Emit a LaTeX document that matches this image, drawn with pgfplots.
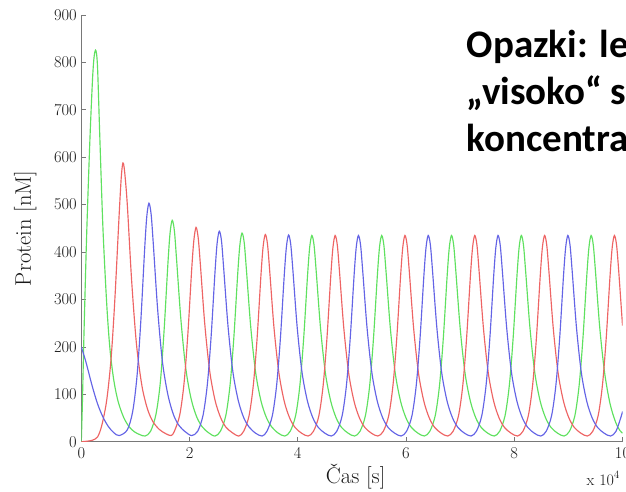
\documentclass[border=0pt]{standalone}
\usepackage{fontspec}
\usepackage{pgfplots}
\pgfplotsset{compat=1.18}
\newfontfamily\carlito{Carlito}
\definecolor{cgreen}{RGB}{95,225,95}
\definecolor{cred}{RGB}{238,100,100}
\definecolor{cblue}{RGB}{100,100,230}
\definecolor{axgray}{RGB}{120,120,120}
\begin{document}
\begin{tikzpicture}[x=1pt,y=1pt]
\path[use as bounding box] (0,-492) rectangle (626,0);
\fill[white] (0,-492) rectangle (626,0);
\clip (0,-492) rectangle (626,0);
\begin{axis}[
  at={(81.3pt,-441.7pt)}, anchor=south west,
  scale only axis, width=541.2pt, height=426.7pt,
  xmin=0, xmax=10, ymin=0, ymax=900,
  axis x line=bottom, axis y line=left,
  axis line style={axgray, line width=0.9pt, -},
  xtick={0,2,...,10}, ytick={0,100,...,900},
  tick align=inside, major tick length=5pt,
  tick style={axgray, line width=0.7pt},
  /pgf/number format/assume math mode=true,
  tick label style={font=\fontsize{16.5}{19}\selectfont, text=black!90},
  xticklabel style={yshift=-2.5pt},
  yticklabel style={xshift=-1pt},
  xlabel={Čas [s]}, ylabel={Protein [nM]},
  label style={font=\fontsize{22.5}{26}\selectfont, text=black!90},
  xlabel style={at={(axis description cs:0.507,-0.0968)}, anchor=base},
  ylabel style={at={(axis description cs:-0.093,0.5)}, anchor=base},
  every axis plot/.append style={line width=1.15pt, smooth, no marks},
]
% green
\addplot[cgreen] coordinates {
(0,0) (0.02,80) (0.05,230) (0.10,440) (0.16,640) (0.21,770) (0.24,815) (0.27,825) (0.30,790) (0.34,650) (0.40,450) (0.47,290) (0.53,195) (0.60,130) (0.68,85) (0.78,52) (0.88,32) (0.98,21) (1.08,15) (1.18,12)
(1.28,22) (1.38,58) (1.46,125) (1.53,235) (1.60,375) (1.64,440) (1.68,467) (1.72,445) (1.76,385) (1.84,258) (1.93,155) (2.03,90) (2.13,53) (2.23,32) (2.35,19) (2.47,12)
(2.57,22) (2.67,55) (2.75,121) (2.82,222) (2.89,354) (2.93,415) (2.97,440) (3.01,420) (3.05,364) (3.13,243) (3.22,147) (3.32,86) (3.42,51) (3.52,31) (3.64,18) (3.76,12)
(3.86,22) (3.96,55) (4.04,120) (4.11,220) (4.18,350) (4.22,410) (4.26,435) (4.30,415) (4.34,360) (4.42,240) (4.51,145) (4.61,85) (4.71,50) (4.81,30) (4.93,18) (5.05,12)
(5.15,22) (5.25,55) (5.33,120) (5.40,220) (5.47,350) (5.51,410) (5.55,435) (5.59,415) (5.63,360) (5.71,240) (5.80,145) (5.90,85) (6.00,50) (6.10,30) (6.22,18) (6.34,12)
(6.44,22) (6.54,55) (6.62,120) (6.69,220) (6.76,350) (6.80,410) (6.84,435) (6.88,415) (6.92,360) (7.00,240) (7.09,145) (7.19,85) (7.29,50) (7.39,30) (7.51,18) (7.63,12)
(7.73,22) (7.83,55) (7.91,120) (7.98,220) (8.05,350) (8.09,410) (8.13,435) (8.17,415) (8.21,360) (8.29,240) (8.38,145) (8.48,85) (8.58,50) (8.68,30) (8.80,18) (8.92,12)
(9.02,22) (9.12,55) (9.20,120) (9.27,220) (9.34,350) (9.38,410) (9.42,435) (9.46,415) (9.50,360) (9.58,240) (9.67,145) (9.77,80) (9.87,42) (9.95,24) (10,18)
};
% red
\addplot[cred] coordinates {
(0,0) (0.10,1) (0.20,3) (0.30,10) (0.38,35) (0.47,88) (0.55,175) (0.62,300) (0.70,480) (0.74,560) (0.77,588) (0.80,570) (0.85,500) (0.93,340) (1.02,205) (1.12,118) (1.22,70) (1.32,43) (1.44,26) (1.56,17) (1.66,13)
(1.72,22) (1.82,57) (1.90,125) (1.97,229) (2.04,364) (2.08,425) (2.12,452) (2.16,430) (2.20,374) (2.28,250) (2.37,151) (2.47,88) (2.57,52) (2.67,31) (2.79,19) (2.91,12)
(3.00,22) (3.10,55) (3.18,121) (3.25,221) (3.32,352) (3.36,412) (3.40,437) (3.44,417) (3.48,362) (3.56,241) (3.65,146) (3.75,85) (3.85,50) (3.95,30) (4.07,18) (4.19,12)
(4.29,22) (4.39,55) (4.47,120) (4.54,220) (4.61,350) (4.65,410) (4.69,435) (4.73,415) (4.77,360) (4.85,240) (4.94,145) (5.04,85) (5.14,50) (5.24,30) (5.36,18) (5.48,12)
(5.58,22) (5.68,55) (5.76,120) (5.83,220) (5.90,350) (5.94,410) (5.98,435) (6.02,415) (6.06,360) (6.14,240) (6.23,145) (6.33,85) (6.43,50) (6.53,30) (6.65,18) (6.77,12)
(6.87,22) (6.97,55) (7.05,120) (7.12,220) (7.19,350) (7.23,410) (7.27,435) (7.31,415) (7.35,360) (7.43,240) (7.52,145) (7.62,85) (7.72,50) (7.82,30) (7.94,18) (8.06,12)
(8.16,22) (8.26,55) (8.34,120) (8.41,220) (8.48,350) (8.52,410) (8.56,435) (8.60,415) (8.64,360) (8.72,240) (8.81,145) (8.91,85) (9.01,50) (9.11,30) (9.23,18) (9.35,12)
(9.45,22) (9.55,55) (9.63,120) (9.70,220) (9.77,350) (9.81,410) (9.85,435) (9.89,415) (9.93,360) (10.0,245)
};
% blue
\addplot[cblue] coordinates {
(0,200) (0.05,182) (0.10,162) (0.20,118) (0.30,80) (0.40,52) (0.50,32) (0.60,19) (0.70,13)
(0.85,25) (0.95,64) (1.03,139) (1.10,255) (1.17,405) (1.21,475) (1.25,503) (1.29,480) (1.33,418) (1.41,280) (1.50,168) (1.60,99) (1.70,58) (1.80,35) (1.92,21) (2.04,13)
(2.15,22) (2.25,56) (2.33,122) (2.40,224) (2.47,357) (2.51,419) (2.55,444) (2.59,424) (2.63,367) (2.71,245) (2.80,148) (2.90,87) (3.00,51) (3.10,31) (3.22,18) (3.34,12)
(3.43,22) (3.53,55) (3.61,120) (3.68,220) (3.75,351) (3.79,411) (3.83,436) (3.87,416) (3.91,361) (3.99,240) (4.08,145) (4.18,85) (4.28,50) (4.38,30) (4.50,18) (4.62,12)
(4.72,22) (4.82,55) (4.90,120) (4.97,220) (5.04,350) (5.08,410) (5.12,435) (5.16,415) (5.20,360) (5.28,240) (5.37,145) (5.47,85) (5.57,50) (5.67,30) (5.79,18) (5.91,12)
(6.01,22) (6.11,55) (6.19,120) (6.26,220) (6.33,350) (6.37,410) (6.41,435) (6.45,415) (6.49,360) (6.57,240) (6.66,145) (6.76,85) (6.86,50) (6.96,30) (7.08,18) (7.20,12)
(7.30,22) (7.40,55) (7.48,120) (7.55,220) (7.62,350) (7.66,410) (7.70,435) (7.74,415) (7.78,360) (7.86,240) (7.95,145) (8.05,85) (8.15,50) (8.25,30) (8.37,18) (8.49,12)
(8.59,22) (8.69,55) (8.77,120) (8.84,220) (8.91,350) (8.95,410) (8.99,435) (9.03,415) (9.07,360) (9.15,240) (9.24,145) (9.34,85) (9.44,50) (9.54,30) (9.66,18) (9.78,12)
(9.88,22) (9.98,55) (10,64)
};
\end{axis}
\node[anchor=base west, inner sep=0pt, font=\fontsize{16}{18}\selectfont, text=black!90] at (586.5,-485) {x 10\textsuperscript{4}};
\node[anchor=base west, inner sep=0pt, align=left, font=\carlito\bfseries\fontsize{39}{47}\selectfont] at (466.7,-151) {Opazki: le\\„visoko“ s\\koncentra};
\end{tikzpicture}
\end{document}
